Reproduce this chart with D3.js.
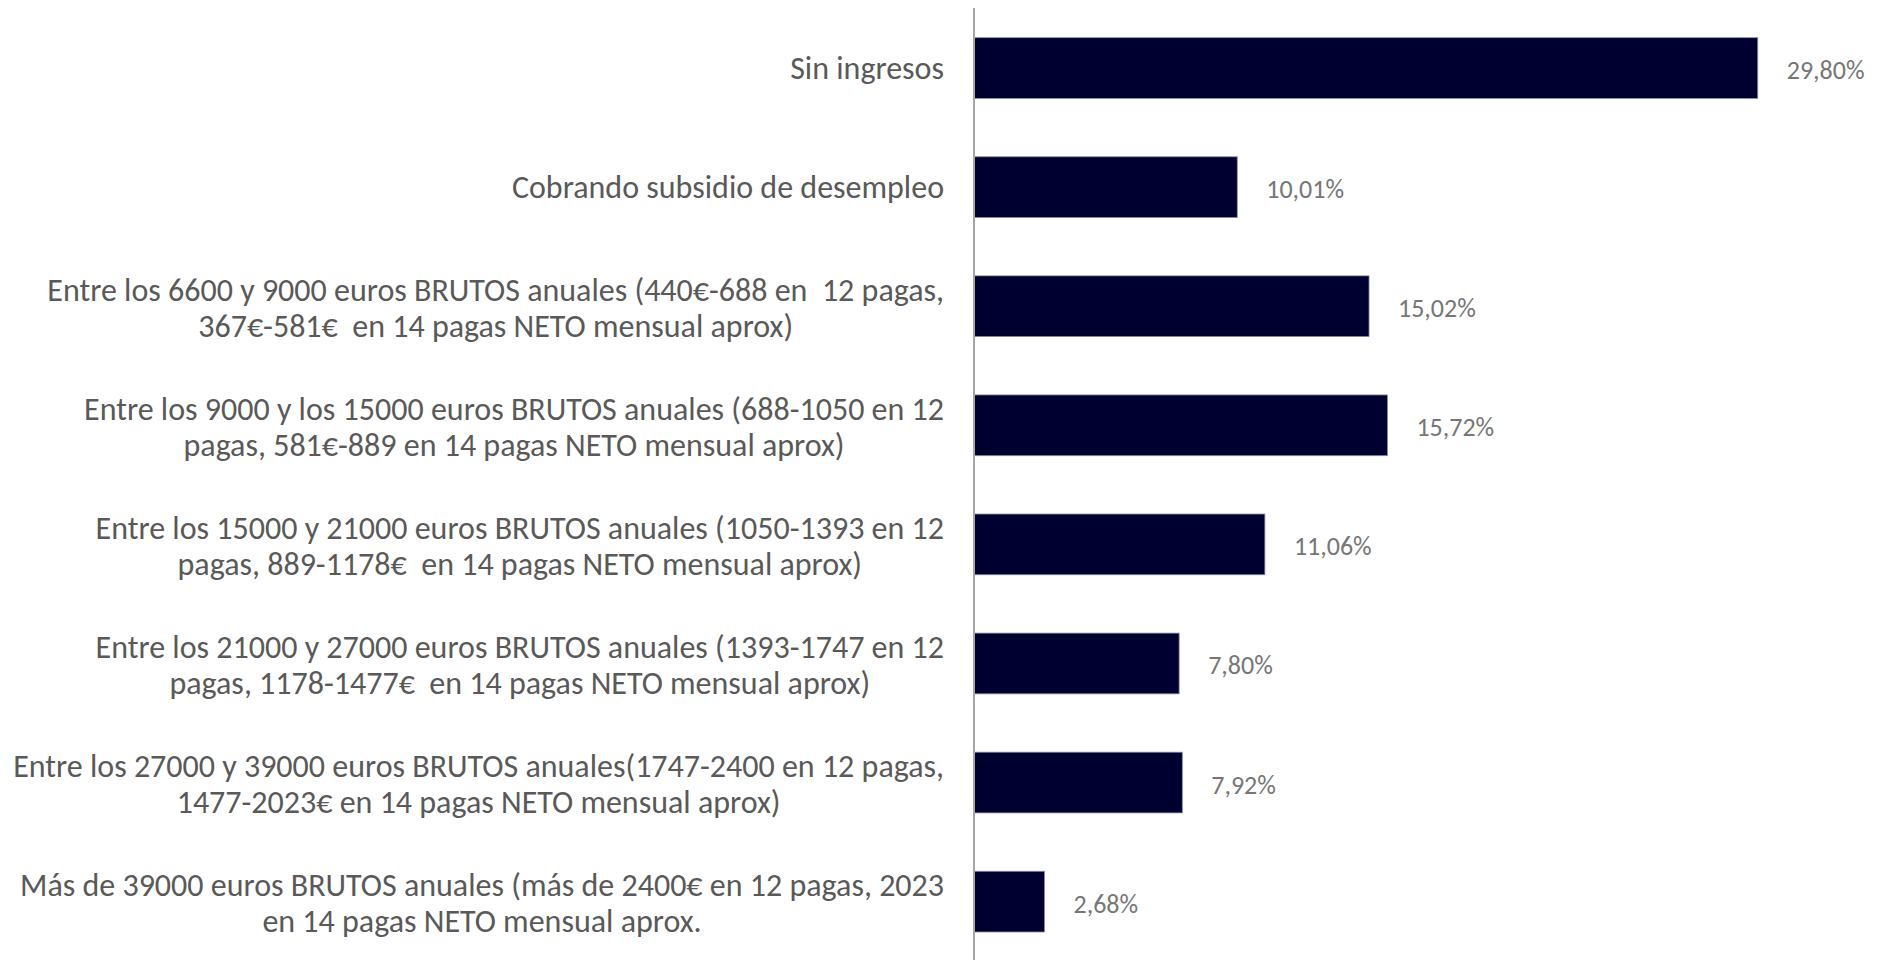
<!DOCTYPE html>
<html>
<head>
<meta charset="utf-8">
<script src="https://cdn.jsdelivr.net/npm/d3@7"></script>
<style>
body { margin: 0; background: #fff; }
text { font-family: Carlito, Calibri, Lato, "Open Sans", sans-serif; white-space: pre; }
</style>
</head>
<body>
<script>
// data
var labels = [
  ["Sin ingresos"],
  ["Cobrando subsidio de desempleo"],
  ["Entre los 6600 y 9000 euros BRUTOS anuales (440€-688 en  12 pagas,", "367€-581€  en 14 pagas NETO mensual aprox)"],
  ["Entre los 9000 y los 15000 euros BRUTOS anuales (688-1050 en 12", "pagas, 581€-889 en 14 pagas NETO mensual aprox)"],
  ["Entre los 15000 y 21000 euros BRUTOS anuales (1050-1393 en 12", "pagas, 889-1178€  en 14 pagas NETO mensual aprox)"],
  ["Entre los 21000 y 27000 euros BRUTOS anuales (1393-1747 en 12", "pagas, 1178-1477€  en 14 pagas NETO mensual aprox)"],
  ["Entre los 27000 y 39000 euros BRUTOS anuales(1747-2400 en 12 pagas,", "1477-2023€ en 14 pagas NETO mensual aprox)"],
  ["Más de 39000 euros BRUTOS anuales (más de 2400€ en 12 pagas, 2023", "en 14 pagas NETO mensual aprox."]
]
var values = [29.80, 10.01, 15.02, 15.72, 11.06, 7.80, 7.92, 2.68]

var w = 1883, h = 960
var axis_x = 974
var label_right = 944
var cat_font = 32
var val_font = 26
var line_gap = 36

var svg = d3.select("body").append("svg")
.attr("width", w)
.attr("height", h)

var ids = d3.range(values.length)

var x = d3.scaleLinear()
.domain([0, 30])
.range([axis_x, axis_x + 789])

var y = d3.scaleBand()
.domain(ids)
.range([37.7, 932])
.paddingInner(0.49)
.paddingOuter(0)

// bars
svg.selectAll("rect.bar")
.data(ids)
.enter().append("rect")
.attr("class", "bar")
.attr("x", x(0))
.attr("y", function(i){ return y(i) })
.attr("width", function(i){ return x(values[i]) - x(0) })
.attr("height", y.bandwidth())
.attr("fill", "#000030")
.attr("stroke", "#8a8aa0")
.attr("stroke-width", 0.8)

// value labels
svg.selectAll("text.val")
.data(ids)
.enter().append("text")
.attr("class", "val")
.attr("x", function(i){ return x(values[i]) + 29 })
.attr("y", function(i){ return y(i) + y.bandwidth()/2 + 2 })
.attr("dominant-baseline", "central")
.style("font-size", val_font + "px")
.style("fill", "#767676")
.text(function(i){ return values[i].toFixed(2).replace(".", ",") + "%" })

// category labels: block right aligned, lines centred within block
ids.forEach(function(i)
{
  var g = svg.append("g")
  var lines = labels[i]
  var cy = y(i) + y.bandwidth()/2 + (lines.length > 1 ? 2 : 0)
  var nodes = []
  lines.forEach(function(s, k)
  {
    var t = g.append("text")
    .attr("text-anchor", "middle")
    .attr("dominant-baseline", "central")
    .attr("y", cy + (k - (lines.length-1)/2) * line_gap)
    .style("font-size", cat_font + "px")
    .style("fill", "#595959")
    .text(s)
    nodes.push(t)
  })
  var maxw = d3.max(nodes, function(t){ return t.node().getComputedTextLength() })
  nodes.forEach(function(t){ t.attr("x", label_right - maxw/2) })
})

// vertical axis line
svg.append("line")
.attr("x1", axis_x)
.attr("x2", axis_x)
.attr("y1", 8)
.attr("y2", h)
.attr("stroke", "#a6a6a6")
.attr("stroke-width", 2)
</script>
</body>
</html>
